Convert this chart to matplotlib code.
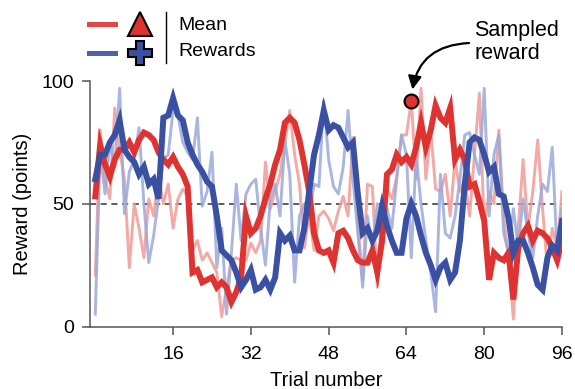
import numpy as np
import matplotlib
matplotlib.use("Agg")
import matplotlib.pyplot as plt
from matplotlib.lines import Line2D

plt.rcParams['font.family'] = ['Liberation Sans', 'DejaVu Sans']

trials = np.arange(0, 97)

red_mean = [53, 74, 66, 61, 68, 72, 72, 75, 71, 76, 79, 78, 76, 71, 68, 66, 69, 65, 62, 57,
            22, 23, 18, 19, 20, 16, 18, 16, 10, 14, 20,
            45, 38, 40, 45, 52, 58, 66, 72, 83, 85, 83, 76, 66, 55, 38, 31, 30, 31, 26,
            38, 39, 36, 31, 27, 26, 26, 31, 22, 35, 62, 64, 70, 67,
            69, 66, 73, 83, 73, 80, 90, 85, 83, 89, 68, 72, 68, 57, 58, 51, 43, 19, 30, 28,
            27, 30, 11, 32, 38, 41, 35, 39, 38, 36, 32, 27, 35]

blue_mean = [60, 70, 70, 75, 78, 84, 72, 69, 67, 62, 65, 58, 60, 52, 85, 86, 93, 86, 84, 75,
             70, 66, 63, 59, 57, 45, 31, 29, 27, 22, 16,
             19, 23, 15, 16, 19, 15, 20, 38, 35, 37, 31, 31, 40, 55, 70, 78, 88, 80, 82,
             81, 77, 73, 75, 54, 38, 40, 35, 39, 49, 41, 35, 30, 30,
             44, 50, 45, 37, 30, 25, 19, 24, 26, 19, 22, 35, 58, 75, 77, 76, 70, 63, 65, 54,
             53, 44, 30, 35, 35, 30, 24, 17, 15, 28, 33, 31, 43]

red_reward = [21, 80, 60, 52, 89, 72, 60, 24, 50, 40, 28, 52, 45, 62, 50, 58, 40, 52, 56, 53,
              31, 35, 27, 30, 26, 22, 4, 16, 27, 28, 27,
              27, 34, 30, 35, 67, 48, 55, 62, 75, 88, 70, 58, 32, 46, 31, 45, 47, 44, 39,
              47, 53, 45, 77, 42, 19, 58, 57, 16, 50, 56, 52, 61, 78,
              78, 92, 60, 97, 60, 80, 56, 55, 62, 45, 68, 55, 60, 45, 70, 95, 40, 55, 50, 80,
              45, 28, 3, 40, 68, 40, 55, 76, 48, 24, 40, 32, 55]

blue_reward = [5, 71, 54, 75, 65, 97, 46, 63, 68, 81, 50, 26, 37, 52, 68, 70, 88, 86, 75, 71,
               68, 85, 49, 55, 71, 24, 40, 5, 30, 58, 35,
               54, 58, 60, 40, 25, 52, 58, 45, 76, 62, 18, 45, 50, 45, 58, 57, 92, 68, 57,
               54, 65, 88, 60, 38, 16, 45, 32, 50, 33, 48, 40, 60, 78,
               70, 28, 70, 50, 35, 22, 6, 62, 38, 36, 45, 60, 78, 79, 70, 62, 97, 45, 70, 78,
               38, 30, 48, 32, 52, 38, 28, 45, 58, 55, 73, 30, 48]

sampled_trial = 65
sampled_value = 92

x_ticks = [16, 32, 48, 64, 80, 96]
y_ticks = [0, 50, 100]

RED = '#DE3330'
BLUE = '#3A50A3'
RED_L = '#F29A96'
BLUE_L = '#9AA9DA'

W, H = 575, 389
fig = plt.figure(figsize=(W / 100, H / 100), dpi=100)

def fx(x):
    return x / W

def fy(y):
    return 1 - y / H

ax = fig.add_axes([fx(89.7), fy(326.5), (562 - 89.7) / W, (326.5 - 81) / H])

ax.axhline(50, color='#333333', lw=1.1, ls=(0, (4, 3)), zorder=1)
ax.plot(trials, red_reward, color=RED_L, lw=2.1, alpha=0.85, zorder=2)
ax.plot(trials, blue_reward, color=BLUE_L, lw=2.1, alpha=0.85, zorder=2)
ax.plot(trials, red_mean, color=RED, lw=4.3, zorder=3, solid_joinstyle='miter')
ax.plot(trials, blue_mean, color=BLUE, lw=4.3, zorder=4, solid_joinstyle='miter')

ax.plot([sampled_trial], [sampled_value], 'o', ms=10, mfc=RED, mec='black', mew=1.5,
        zorder=6, clip_on=False)

ax.set_xlim(-1.15, 96)
ax.set_ylim(0, 100)
ax.set_xticks(x_ticks)
ax.set_yticks(y_ticks)
ax.tick_params(axis='x', labelsize=14, length=6, width=1.1, color='#555555', pad=8)
ax.tick_params(axis='y', labelsize=14, length=6, width=1.1, color='#555555', pad=5)
for s in ['top', 'right']:
    ax.spines[s].set_visible(False)
for s in ['left', 'bottom']:
    ax.spines[s].set_color('#555555')
    ax.spines[s].set_linewidth(1.1)
ax.set_xlabel('Trial number', fontsize=14.5, labelpad=6)
ax.set_ylabel('Reward (points)', fontsize=14.5, labelpad=7)

# Legend (manual)
fig.add_artist(Line2D([fx(89), fx(115)], [fy(24), fy(24)], color=RED, lw=3.6, alpha=0.9))
fig.add_artist(Line2D([fx(89), fx(115)], [fy(53), fy(53)], color=BLUE, lw=3.6, alpha=0.9))
fig.add_artist(Line2D([fx(140)], [fy(24)], marker='^', ms=17, mfc=RED, mec='black', mew=1.5, ls='none'))
fig.add_artist(Line2D([fx(140)], [fy(53)], marker='P', ms=17, mfc=BLUE, mec='black', mew=1.5, ls='none'))
fig.add_artist(Line2D([fx(166), fx(166)], [fy(12), fy(63)], color='black', lw=1.0))
fig.text(fx(178), fy(25), 'Mean', fontsize=14, va='center', ha='left')
fig.text(fx(178), fy(52), 'Rewards', fontsize=14, va='center', ha='left')

# Annotation
fig.text(fx(474), fy(42), 'Sampled\nreward', fontsize=15.5, va='center', ha='left', linespacing=1.1)
ax.annotate('', xy=(sampled_trial, sampled_value), xycoords='data',
            xytext=(469, H - 43), textcoords='figure pixels',
            arrowprops=dict(arrowstyle='-|>', connectionstyle='arc3,rad=0.45', lw=1.6,
                            color='black', shrinkB=8, shrinkA=0, mutation_scale=20))

fig.savefig('out.png', dpi=100)
